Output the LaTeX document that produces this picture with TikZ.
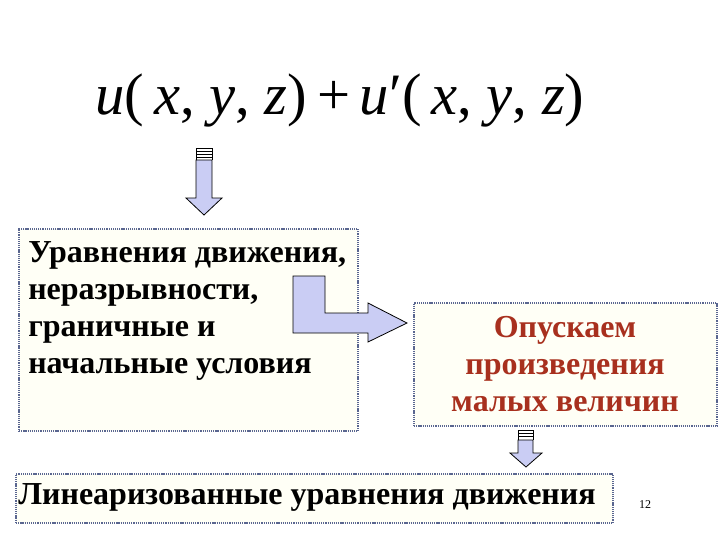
\documentclass[tikz,border=0pt]{standalone}
\usepackage{fontspec}
\setmainfont{Liberation Serif}
\definecolor{dotc}{HTML}{5A6690}
\definecolor{boxfill}{HTML}{FFFFF6}
\definecolor{arrfill}{HTML}{CACDF4}
\definecolor{redtext}{HTML}{A8301E}
\begin{document}
\begin{tikzpicture}[x=0.75pt,y=-0.75pt,
  box/.style={draw=dotc, line width=1.6pt, dash pattern=on 0.9pt off 0.7pt, fill=boxfill, inner sep=0pt},
  arr/.style={draw=black, line width=0.6pt, fill=arrfill, line join=miter},
  stripe/.style={draw=black, line width=0.5pt},
  big/.style={font=\fontsize{24}{27.8}\selectfont\bfseries}]
\path[use as bounding box] (0,0) rectangle (720,540);
% formula
\node (formula) at (340,100) {\fontsize{44}{48}\selectfont\itshape u\upshape(\,\itshape x\upshape, \itshape y\upshape, \itshape z\upshape)\,+\,\itshape u\upshape′(\,\itshape x\upshape, \itshape y\upshape, \itshape z\upshape)};
% boxes
\node[box, minimum width=254.25pt, minimum height=151.5pt, anchor=north west] (b1) at (18,228) {};
\node[box, minimum width=227.25pt, minimum height=92.25pt, anchor=north west] (b2) at (413,302) {};
\node[box, minimum width=447.75pt, minimum height=36.75pt, anchor=north west] (b3) at (15,473) {};
% texts
\node[big, align=left, anchor=north west, inner sep=0pt] (t1) at (28,241) {Уравнения движения,\\неразрывности,\\граничные и\\начальные условия};
\node[big, align=center, text=redtext, inner sep=0pt] (t2) at (565,364) {Опускаем\\произведения\\малых величин};
\node[big, inner sep=0pt] (t3) at (307,497) {Линеаризованные уравнения движения};
\node[font=\fontsize{9}{10}\selectfont] (pg) at (645,505) {12};
% down arrow 1
\path[arr] (196,160) -- (212,160) -- (212,198) -- (222,198) -- (204,215) -- (186,198) -- (196,198) -- cycle;
\draw[stripe] (196,148) -- (212,148) (196,151) -- (212,151) (196,154) -- (212,154) (196,157) -- (212,157);
\draw[stripe] (196,148) -- (196,160) (212,148) -- (212,160);
% bent arrow
\path[arr] (293,276) -- (325,276) -- (325,313) -- (368,313) -- (368,303) -- (407,323) -- (368,342) -- (368,333) -- (293,333) -- cycle;
% down arrow 2
\path[arr] (518,440) -- (533,440) -- (533,453) -- (542,453) -- (526,467) -- (510,453) -- (518,453) -- cycle;
\draw[stripe] (518,430) -- (533,430) (518,433) -- (533,433) (518,436) -- (533,436);
\draw[stripe] (518,430) -- (518,440) (533,430) -- (533,440);
\end{tikzpicture}
\end{document}
